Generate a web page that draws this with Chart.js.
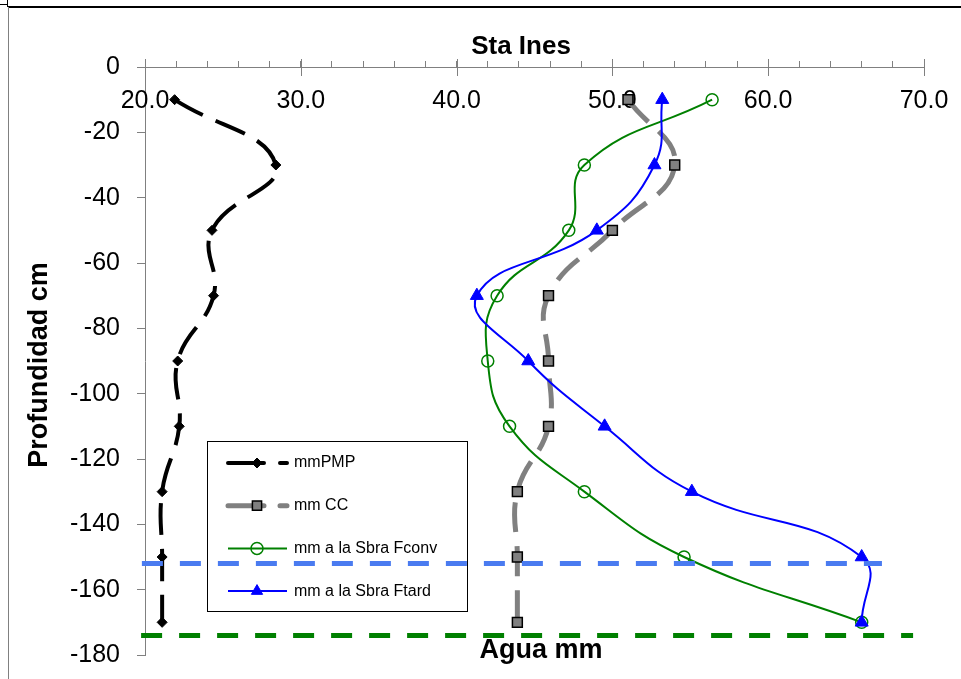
<!DOCTYPE html>
<html>
<head>
<meta charset="utf-8">
<script src="https://cdn.jsdelivr.net/npm/chart.js@4.4.1/dist/chart.umd.min.js"></script>
<style>
  html, body { margin: 0; padding: 0; background: #fff; }
  #wrap { position: relative; width: 961px; height: 679px; }
</style>
</head>
<body>
<div id="wrap"><canvas id="chart"></canvas></div>
<script>
// depth of each sample (cm) and the water values (mm)
const depths = [-10, -30, -50, -70, -90, -110, -130, -150, -170]
const mmPMP = [21.9, 28.4, 24.3, 24.4, 22.1, 22.2, 21.1, 21.1, 21.1]
const mmCC = [51.0, 54.0, 50.0, 45.9, 45.9, 45.9, 43.9, 43.9, 43.9]
const mmFconv = [56.4, 48.2, 47.2, 42.6, 42.0, 43.4, 48.2, 54.6, 66.0]
const mmFtard = [53.2, 52.7, 49.0, 41.3, 44.6, 49.5, 55.1, 66.0, 66.0]

// the two dashed horizontal reference lines
const blueLimitDepth = -152
const blueLimitX = [19.8, 67.3]
const greenLimitDepth = -174
const greenLimitX = [19.75, 69.3]

const xTickLabels = [20, 30, 40, 50, 60, 70]
const seriesNames = ['mmPMP', 'mm CC', 'mm a la Sbra Fconv', 'mm a la Sbra Ftard']

const FONT = "'Liberation Sans', Arial, Helvetica, sans-serif"
Chart.defaults.font.family = FONT

const toPoints = (xs, ys) => xs.map((x, i) => ({ x, y: ys[i] }))
const hLine = (xr, depth) => xr.map(x => ({ x, y: depth }))

const datasets = [
  {
    label: seriesNames[0],
    data: toPoints(mmPMP, depths),
    borderColor: '#000000',
    borderWidth: 4,
    borderDash: [32, 14],
    pointStyle: 'rectRot',
    pointRadius: 5,
    pointBackgroundColor: '#000000',
    pointBorderColor: '#000000',
    pointBorderWidth: 1,
    order: 5
  },
  {
    label: seriesNames[1],
    data: toPoints(mmCC, depths),
    borderColor: '#808080',
    borderWidth: 5,
    borderDash: [30, 14],
    pointStyle: 'rect',
    pointRadius: 7,
    pointBackgroundColor: '#808080',
    pointBorderColor: '#000000',
    pointBorderWidth: 1.5,
    order: 4
  },
  {
    label: seriesNames[2],
    data: toPoints(mmFconv, depths),
    borderColor: '#008000',
    borderWidth: 2,
    pointStyle: 'circle',
    pointRadius: 6,
    pointBackgroundColor: 'rgba(0,0,0,0)',
    pointBorderColor: '#008000',
    pointBorderWidth: 1.5,
    order: 3
  },
  {
    label: seriesNames[3],
    data: toPoints(mmFtard, depths),
    borderColor: '#0000ff',
    borderWidth: 2,
    pointStyle: 'triangle',
    pointRadius: 7.5,
    pointBackgroundColor: '#0000ff',
    pointBorderColor: '#0000ff',
    pointBorderWidth: 1,
    order: 2
  },
  {
    label: 'limite1',
    data: hLine(blueLimitX, blueLimitDepth),
    borderColor: '#4a7bf0',
    borderWidth: 5,
    borderDash: [21, 17],
    pointRadius: 0,
    tension: 0,
    order: 1
  },
  {
    label: 'limite2',
    data: hLine(greenLimitX, greenLimitDepth),
    borderColor: '#008000',
    borderWidth: 5,
    borderDash: [21, 17],
    pointRadius: 0,
    tension: 0,
    order: 0
  }
]
for (const ds of datasets) {
  ds.showLine = true
  ds.clip = false
  if (ds.tension === undefined) ds.tension = 0.45
}

// frame, x tick labels, titles and legend drawn by hand
const decorations = {
  id: 'decorations',
  beforeDraw (chart) {
    const ctx = chart.ctx
    ctx.save()
    ctx.strokeStyle = '#000'
    ctx.lineWidth = 2
    ctx.beginPath()
    ctx.moveTo(8, 7)
    ctx.lineTo(961, 7)
    ctx.stroke()
    ctx.lineWidth = 1
    ctx.strokeStyle = '#808080'
    ctx.beginPath()
    ctx.moveTo(8.5, 7)
    ctx.lineTo(8.5, 679)
    ctx.stroke()
    ctx.strokeStyle = '#000'
    ctx.beginPath()
    ctx.moveTo(0, 4.5)
    ctx.lineTo(8, 4.5)
    ctx.moveTo(7.5, 0)
    ctx.lineTo(7.5, 7)
    ctx.stroke()
    ctx.restore()
  },
  beforeDatasetsDraw (chart) {
    const ctx = chart.ctx
    const xs = chart.scales.x
    const top = chart.chartArea.top
    ctx.save()
    // major ticks cross the axis line
    ctx.strokeStyle = '#808080'
    ctx.lineWidth = 1
    for (const v of xTickLabels) {
      const px = Math.round(xs.getPixelForValue(v)) + 0.5
      ctx.beginPath()
      ctx.moveTo(px, top - 8)
      ctx.lineTo(px, top + 9)
      ctx.stroke()
    }
    ctx.fillStyle = '#000'
    ctx.font = '25px ' + FONT
    ctx.textAlign = 'center'
    ctx.textBaseline = 'middle'
    for (const v of xTickLabels) {
      ctx.fillText(v.toFixed(1), xs.getPixelForValue(v), top + 34)
    }

    // legend
    const lx = 207.5
    const ly = 441.5
    ctx.strokeStyle = '#000'
    ctx.lineWidth = 1
    ctx.strokeRect(lx, ly, 260, 170)
    ctx.font = '16px ' + FONT
    ctx.textAlign = 'left'
    for (let i = 0; i < 4; i++) {
      const ds = chart.data.datasets[i]
      const yc = 463 + i * 42.7
      ctx.save()
      ctx.strokeStyle = ds.borderColor
      ctx.lineWidth = ds.borderWidth
      ctx.setLineDash(ds.borderDash ? [36, 16] : [])
      ctx.lineCap = ds.borderDash ? 'round' : 'butt'
      ctx.beginPath()
      ctx.moveTo(228, yc)
      ctx.lineTo(287, yc)
      ctx.stroke()
      ctx.restore()
      ctx.save()
      ctx.fillStyle = ds.pointBackgroundColor
      ctx.strokeStyle = ds.pointBorderColor
      ctx.lineWidth = ds.pointBorderWidth
      Chart.helpers.drawPoint(ctx, {
        pointStyle: ds.pointStyle,
        radius: Math.min(ds.pointRadius, 6.5),
        rotation: 0,
        borderWidth: ds.pointBorderWidth
      }, 257, yc)
      ctx.restore()
      ctx.fillStyle = '#000'
      ctx.fillText(ds.label, 294, yc)
    }
    ctx.restore()
  },
  afterDraw (chart) {
    const ctx = chart.ctx
    ctx.save()
    ctx.fillStyle = '#000'
    ctx.textAlign = 'center'
    ctx.textBaseline = 'alphabetic'
    ctx.font = 'bold 26px ' + FONT
    ctx.fillText('Sta Ines', 521, 54)
    ctx.font = 'bold 27px ' + FONT
    ctx.fillText('Agua mm', 541, 658)
    ctx.translate(47, 365)
    ctx.rotate(-Math.PI / 2)
    ctx.fillText('Profundidad cm', 0, 0)
    ctx.restore()
  }
}

const chart = new Chart(document.getElementById('chart'), {
  type: 'scatter',
  data: { datasets },
  options: {
    responsive: true,
    maintainAspectRatio: false,
    animation: false,
    layout: {
      padding: { left: 8, top: 55, right: 37, bottom: 24 }
    },
    plugins: {
      legend: { display: false },
      tooltip: { enabled: false }
    },
    scales: {
      x: {
        type: 'linear',
        position: 'top',
        min: 20,
        max: 70,
        ticks: { stepSize: 2, display: false },
        grid: { drawOnChartArea: false, tickLength: 6, color: '#808080' },
        border: { color: '#808080' },
        afterFit: (scale) => { scale.height = 12 }
      },
      y: {
        type: 'linear',
        min: -180,
        max: 0,
        ticks: {
          stepSize: 20,
          color: '#000',
          padding: 17,
          font: { size: 25 }
        },
        grid: { drawOnChartArea: false, tickLength: 8, color: '#808080' },
        border: { color: '#808080' },
        afterFit: (scale) => {
          scale.width = 137
          // label overhang must not push the plot area in
          scale.paddingTop = 0
          scale.paddingBottom = 0
        }
      }
    }
  },
  plugins: [decorations]
})
</script>
</body>
</html>
